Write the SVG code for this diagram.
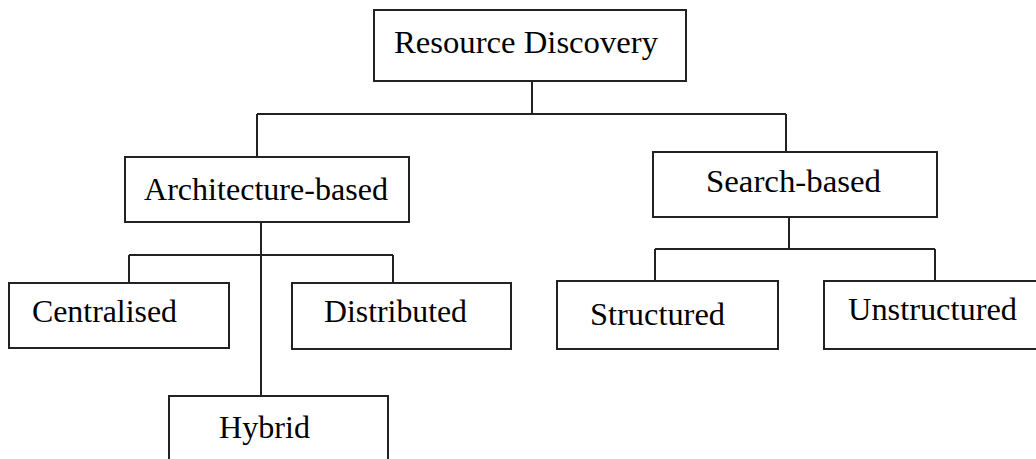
<svg xmlns="http://www.w3.org/2000/svg" width="1036" height="459" viewBox="0 0 1036 459">
<style>
.box{fill:#fff;stroke:#222;stroke-width:2}
.ln{fill:none;stroke:#222;stroke-width:2}
text{font-family:"Liberation Serif",serif;font-size:32px;fill:#000}
</style>
<rect width="1036" height="459" fill="#fff"/>
<g id="connectors">
<path class="ln" d="M532 81V114M257 114H786M257 114V157M786 114V152"/>
<path class="ln" d="M261 222V396M129 255H393M129 255V283M393 255V283"/>
<path class="ln" d="M789 217V249M655 249H935M655 249V281M935 249V281"/>
</g>
<g id="resource-discovery"><rect class="box" x="374" y="10" width="312" height="71"/><text x="394" y="53" textLength="264" lengthAdjust="spacingAndGlyphs">Resource Discovery</text></g>
<g id="architecture-based"><rect class="box" x="125" y="157" width="284" height="65"/><text x="144" y="200" textLength="244" lengthAdjust="spacingAndGlyphs">Architecture-based</text></g>
<g id="search-based"><rect class="box" x="653" y="152" width="284" height="65"/><text x="706" y="192" textLength="175" lengthAdjust="spacingAndGlyphs">Search-based</text></g>
<g id="centralised"><rect class="box" x="9" y="283" width="220" height="65"/><text x="32" y="322" textLength="145" lengthAdjust="spacingAndGlyphs">Centralised</text></g>
<g id="distributed"><rect class="box" x="292" y="283" width="219" height="66"/><text x="324" y="322" textLength="143" lengthAdjust="spacingAndGlyphs">Distributed</text></g>
<g id="hybrid"><rect class="box" x="169" y="396" width="219" height="80"/><text x="219" y="438" textLength="91" lengthAdjust="spacingAndGlyphs">Hybrid</text></g>
<g id="structured"><rect class="box" x="557" y="281" width="221" height="68"/><text x="590" y="325" textLength="135" lengthAdjust="spacingAndGlyphs">Structured</text></g>
<g id="unstructured"><rect class="box" x="824" y="281" width="230" height="68"/><text x="848" y="320" textLength="169" lengthAdjust="spacingAndGlyphs">Unstructured</text></g>
</svg>
